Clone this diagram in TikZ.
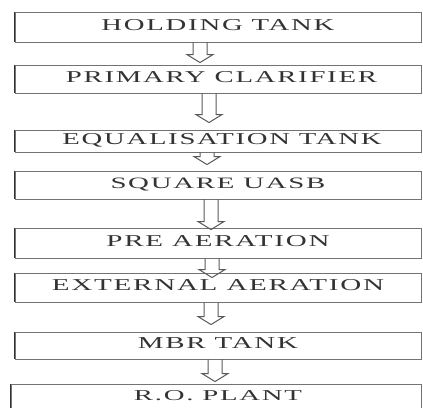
\documentclass[tikz,border=0pt]{standalone}
\usepackage{fontspec}
\setmainfont{Liberation Serif}
\newfontfamily\spacedfont[LetterSpace=6]{Liberation Serif}
\usetikzlibrary{calc}
\tikzset{
  box/.style={draw=black!55, line width=0.9pt, rectangle, inner sep=0pt,
    text=black!80, text height=11pt, text depth=5pt, align=center},
  leftedge/.style={draw=black!80, line width=1.8pt},
  arrline/.style={draw=black!65, line width=1pt, line join=miter}
}
\newcommand\flowarrow[4]{%
  \pgfmathsetmacro\xl{#3-7}\pgfmathsetmacro\xr{#3+7}%
  \pgfmathsetmacro\hl{#3-13}\pgfmathsetmacro\hr{#3+13}%
  \draw[arrline] (#1.south -| \xl,0) -- ($(#2.north -| \xl,0)+(0,#4-8)$)
    -- ($(#2.north -| \hl,0)+(0,#4-8)$) -- ($(#2.north -| #3,0)+(0,#4)$)
    -- ($(#2.north -| \hr,0)+(0,#4-8)$) -- ($(#2.north -| \xr,0)+(0,#4-8)$)
    -- (#1.south -| \xr,0);
}
\newcommand\boxtext[4][0]{\hspace*{#1pt}\resizebox{#2pt}{#3pt}{\spacedfont #4}}
\begin{document}
\begin{tikzpicture}[x=1pt,y=-1pt]
\useasboundingbox (0,0) rectangle (423,407);
\node[box, minimum width=406pt, minimum height=30pt] (b1) at (218,27) {\boxtext{233}{11}{HOLDING TANK}};
\node[box, minimum width=406pt, minimum height=28pt] (b2) at (218,79) {\boxtext[7]{311}{11}{PRIMARY CLARIFIER}};
\node[box, minimum width=406pt, minimum height=22pt] (b3) at (218,141) {\boxtext[8]{319}{11}{EQUALISATION TANK}};
\node[box, minimum width=406pt, minimum height=28pt] (b4) at (218,185) {\boxtext{215}{10.5}{SQUARE UASB}};
\node[box, minimum width=406pt, minimum height=30pt] (b5) at (218,243) {\boxtext{223}{11}{PRE AERATION}};
\node[box, minimum width=406pt, minimum height=29pt] (b6) at (218,287.5) {\boxtext{332}{11}{EXTERNAL AERATION}};
\node[box, minimum width=406pt, minimum height=27pt] (b7) at (218,345.5) {\boxtext{160}{11}{MBR TANK}};
\node[box, minimum width=410pt, minimum height=27pt] (b8) at (216,397.5) {\boxtext[4]{168}{10}{R.O. PLANT}};
\foreach \b in {b1,b2,b3,b4,b5,b6,b7,b8}{
  \draw[leftedge] (\b.north west) -- (\b.south west);
}
\flowarrow{b1}{b2}{200}{-2}
\flowarrow{b2}{b3}{209}{-7}
\flowarrow{b3}{b4}{207}{-6}
\flowarrow{b4}{b5}{211}{2}
\flowarrow{b5}{b6}{212}{5}
\flowarrow{b6}{b7}{211}{-7}
\flowarrow{b7}{b8}{215}{-2}
\end{tikzpicture}
\end{document}
